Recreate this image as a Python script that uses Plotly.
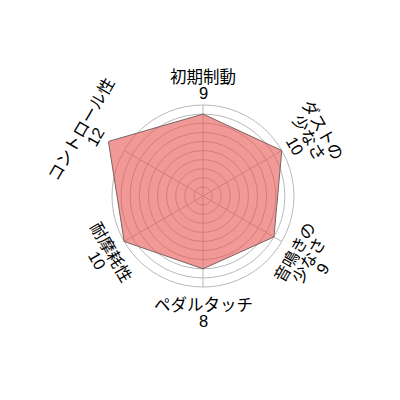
import numpy as np
import plotly.graph_objects as go

# ブレーキパッド評価（レーダーチャート）
categories = ["初期制動", "ダストの少なさ", "音鳴きの少なさ", "ペダルタッチ", "耐摩耗性", "コントロール性"]
label_lines = [["初期制動"], ["ダストの", "少なさ"], ["音鳴きの", "少なさ"],
               ["ペダルタッチ"], ["耐摩耗性"], ["コントロール性"]]
values = [9, 10, 9, 8, 10, 12]
grid_max = 10     # 目盛り円の最大
scale_max = 12    # 値の最大

W = H = 400
cx, cy = 195, 188   # 中心 (px, ページ余白 8px を差し引いた位置)
unit = 9.1          # 1点あたりのpx
FONT = "Liberation Sans, Noto Sans CJK JP, sans-serif"


def domain(r_px):
    return dict(x=[(cx - r_px) / W, (cx + r_px) / W],
                y=[1 - (cy + r_px) / H, 1 - (cy - r_px) / H])


fig = go.Figure()

# グリッド用（見えないトレース）
fig.add_trace(go.Scatterpolar(r=values, theta=categories, mode="markers",
                              marker=dict(size=1, opacity=0), hoverinfo="skip",
                              showlegend=False, subplot="polar"))

# 実データ
fig.add_trace(go.Scatterpolar(r=values + values[:1], theta=categories + categories[:1],
                              mode="lines", fill="toself",
                              fillcolor="rgba(232,85,80,0.6)",
                              line=dict(color="#7a6262", width=1),
                              showlegend=False, subplot="polar2"))

grid = "#b9b9b9"
fig.update_layout(
    width=W, height=H,
    margin=dict(l=0, r=0, t=0, b=0),
    paper_bgcolor="white",
    polar=dict(
        domain=domain(grid_max * unit),
        bgcolor="white",
        radialaxis=dict(range=[0, grid_max], dtick=1, showticklabels=False,
                        ticks="", showline=False, gridcolor=grid, gridwidth=1),
        angularaxis=dict(rotation=90, direction="clockwise", showticklabels=False,
                         ticks="", gridcolor=grid, linecolor=grid, linewidth=1),
    ),
    polar2=dict(
        domain=domain(scale_max * unit),
        bgcolor="rgba(0,0,0,0)",
        radialaxis=dict(range=[0, scale_max], showticklabels=False, ticks="",
                        showline=False, showgrid=False),
        angularaxis=dict(rotation=90, direction="clockwise", showticklabels=False,
                         ticks="", showgrid=False, showline=False),
    ),
)

# 回転ラベル
for i, (lines, v) in enumerate(zip(label_lines, values)):
    lines = lines + [str(v)]
    deg = 90 - 60 * i
    ux, uy = np.cos(np.deg2rad(deg)), np.sin(np.deg2rad(deg))
    ang = (90 - deg) % 360
    if 90 < ang < 270:
        ang -= 180
    elif ang >= 270:
        ang -= 360
    order = lines[::-1] if uy > 0.01 else lines
    r0 = (max(v, grid_max) + 1.7) * unit
    for j, txt in enumerate(order):
        r = r0 + j * 16
        px = cx + r * ux
        py = cy + 3 - r * uy
        fig.add_annotation(x=px / W, y=1 - py / H, xref="paper", yref="paper",
                           text=txt, showarrow=False, textangle=ang,
                           xanchor="center", yanchor="middle",
                           font=dict(family=FONT, size=16.5, color="black"))

fig.write_html("out.html")
